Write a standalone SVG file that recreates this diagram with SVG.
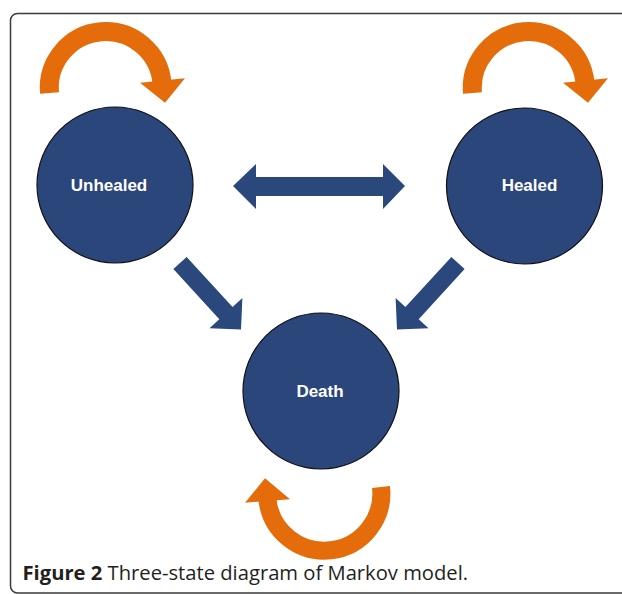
<svg xmlns="http://www.w3.org/2000/svg" width="622" height="594" viewBox="0 0 622 594">
<style>
.node{fill:#2a467b;stroke:#111;stroke-width:1.2}
.lbl{fill:#fff;font-family:"Liberation Sans",Arial,sans-serif;font-weight:bold;font-size:17px;text-anchor:middle}
.loop{fill:none;stroke:#e46c0a;stroke-width:19}
.loophead{fill:#e46c0a}
.arr{fill:#2b487c}
.cap{font-family:"Open Sans","Noto Sans",sans-serif;font-size:20.2px;fill:#231f20}
</style>
<rect x="10.5" y="13.5" width="640" height="579.5" rx="7" fill="#fff" stroke="#3a3a3a" stroke-width="1.5"/>
<g id="connectors">
  <path class="loop" d="M49.5,93 A56,56 0 0 1 162,83"/>
  <polygon class="loophead" points="140,82.7 185,78.3 165,102.7"/>
  <path class="loop" d="M472.5,93 A56,56 0 0 1 585,83"/>
  <polygon class="loophead" points="563,82.7 608,78.3 588,102.7"/>
  <path class="loop" style="stroke-width:18" d="M381,487 A57,57 0 0 1 267.5,500"/>
  <polygon class="loophead" points="245,502.7 290,499.3 265,478.3"/>
  <polygon class="arr" points="233,186 256,164 256,177 383,177 383,164 405,186 383,209 383,196 256,196 256,209"/>
  <polygon class="arr" transform="translate(180,263) rotate(47.5)" points="0,-9 68,-9 68,-22.3 90.3,0 68,22.3 68,9 0,9"/>
  <polygon class="arr" transform="translate(458,263) rotate(132.5)" points="0,-9 68,-9 68,-22.3 90.3,0 68,22.3 68,9 0,9"/>
</g>
<g id="unhealed">
  <circle class="node" cx="115" cy="185" r="78"/>
  <text class="lbl" x="109" y="191">Unhealed</text>
</g>
<g id="healed">
  <circle class="node" cx="524.5" cy="186" r="78"/>
  <text class="lbl" x="529.5" y="191">Healed</text>
</g>
<g id="death">
  <circle class="node" cx="321" cy="391" r="78"/>
  <text class="lbl" x="320" y="397">Death</text>
</g>
<text class="cap" x="22.5" y="580"><tspan font-weight="bold">Figure 2</tspan> Three-state diagram of Markov model.</text>
</svg>
